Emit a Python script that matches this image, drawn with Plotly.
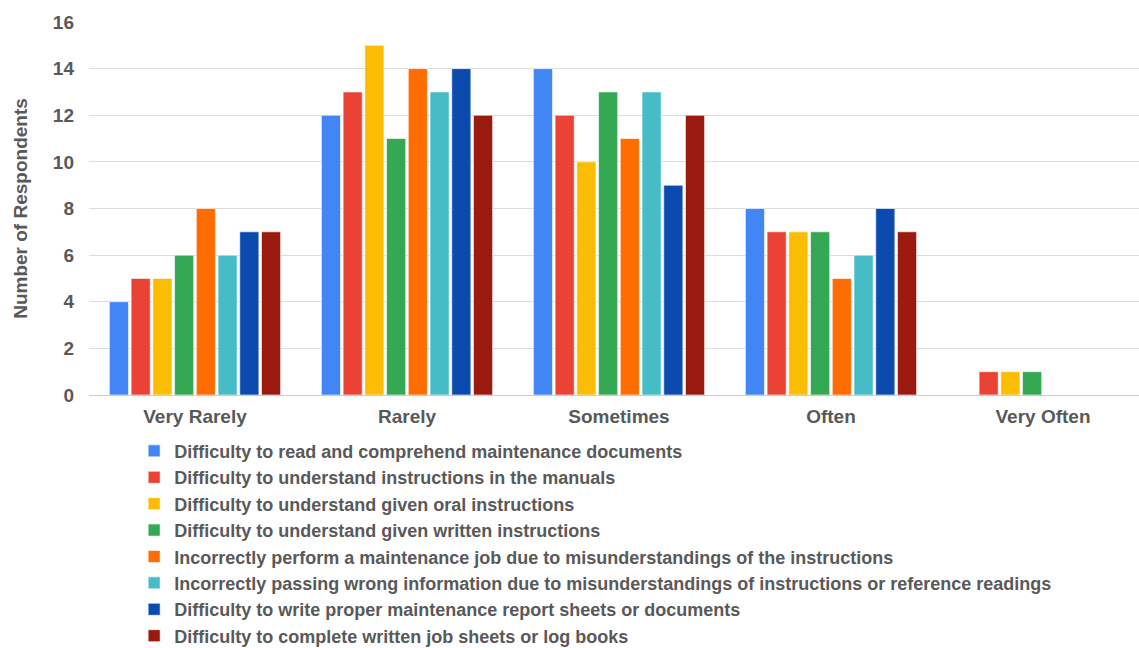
import plotly.graph_objects as go

categories = ["Very Rarely", "Rarely", "Sometimes", "Often", "Very Often"]

series_names = [
    "Difficulty to read and comprehend maintenance documents",
    "Difficulty to understand instructions in the manuals",
    "Difficulty to understand given oral instructions",
    "Difficulty to understand given written instructions",
    "Incorrectly perform a maintenance job due to misunderstandings of the instructions",
    "Incorrectly passing wrong information due to misunderstandings of instructions or reference readings",
    "Difficulty to write proper maintenance report sheets or documents",
    "Difficulty to complete written job sheets or log books",
]

read_docs = [4, 12, 14, 8, 0]
manuals = [5, 13, 12, 7, 1]
oral = [5, 15, 10, 7, 1]
written = [6, 11, 13, 7, 1]
perform_job = [8, 14, 11, 5, 0]
passing_info = [6, 13, 13, 6, 0]
write_reports = [7, 14, 9, 8, 0]
job_sheets = [7, 12, 12, 7, 0]

series_values = [read_docs, manuals, oral, written, perform_job,
                 passing_info, write_reports, job_sheets]

colors = ["#4285F4", "#EA4335", "#FBBC04", "#34A853",
          "#FF6D01", "#46BDC6", "#0B4BB0", "#9A1A10"]

y_ticks = [0, 2, 4, 6, 8, 10, 12, 14, 16]

text_color = "#595959"
font_family = "Liberation Sans, Arial, sans-serif"

fig = go.Figure()
for name, vals, col in zip(series_names, series_values, colors):
    fig.add_trace(go.Bar(
        x=categories, y=vals, name=name,
        marker=dict(color=col, line=dict(color="rgba(255,255,255,0.6)", width=1)),
    ))

fig.update_layout(
    width=1139, height=648,
    margin=dict(l=89, r=0, t=22, b=253, autoexpand=False),
    paper_bgcolor="white", plot_bgcolor="white",
    barmode="group", bargap=0.18, bargroupgap=0.12,
    font=dict(family=font_family, color=text_color),
    showlegend=True,
    legend=dict(
        orientation="v", x=0.043, xanchor="left", y=-0.101, yanchor="top",
        font=dict(size=18, color=text_color, weight="bold"),
        itemwidth=30, tracegroupgap=0,
        bgcolor="rgba(0,0,0,0)",
    ),
    xaxis=dict(
        range=[-0.5, 4.453],
        showgrid=False, zeroline=False, showline=False,
        tickfont=dict(size=19, color=text_color, weight="bold"),
        ticks="", ticklabelstandoff=8,
    ),
    yaxis=dict(
        range=[0, 16], tickvals=y_ticks,
        showgrid=True, gridcolor="#DDDDDD", gridwidth=1,
        zeroline=True, zerolinecolor="#CCCCCC", zerolinewidth=1,
        tickfont=dict(size=19, color=text_color, weight="bold"),
        ticks="", ticklabelstandoff=14,
        title=dict(text="Number of Respondents",
                   font=dict(size=19, color=text_color, weight="bold"),
                   standoff=20),
    ),
)

fig.write_html("out.html")
